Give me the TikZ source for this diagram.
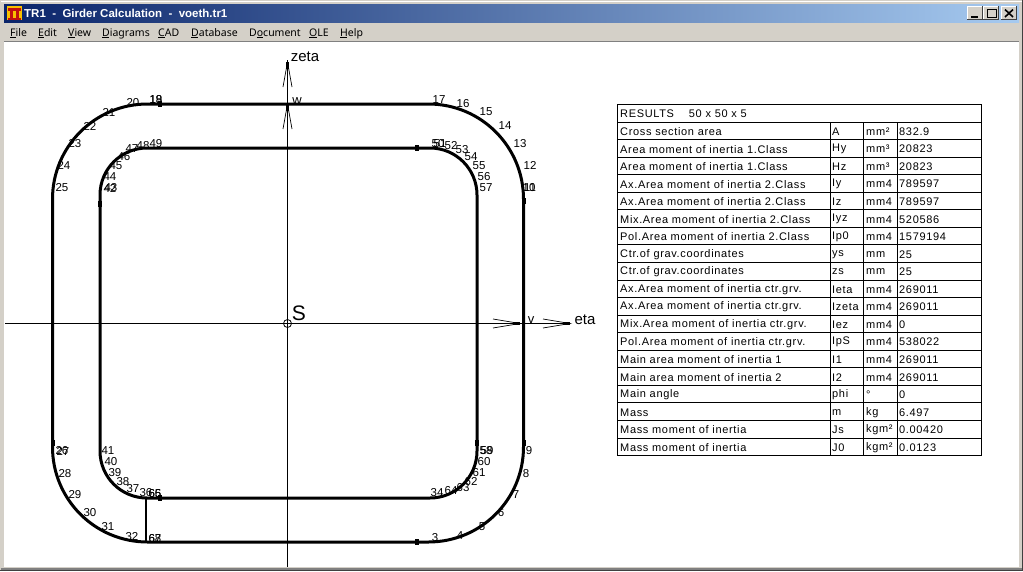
\documentclass[tikz,border=0pt]{standalone}
\usepackage{fontspec}
\setmainfont{Liberation Sans}
\newfontfamily\tblfont[LetterSpace=6]{Liberation Sans}
\newfontfamily\uifont{Noto Sans}
\definecolor{winbg}{HTML}{D4D0C8}
\definecolor{tbA}{HTML}{0A246A}
\definecolor{tbB}{HTML}{A6CAF0}
\definecolor{dkg}{HTML}{404040}
\definecolor{midg}{HTML}{808080}
\definecolor{iconY}{HTML}{F8C000}
\definecolor{iconR}{HTML}{C01010}
\tikzset{
 x=1pt,y=-1pt,
 profile/.style={line width=3pt,line join=round},
 axisline/.style={line width=0.9pt},
 barb/.style={line width=0.7pt},
 blob/.style={line width=3pt},
 tblline/.style={line width=0.9pt},
 tbltxt/.style={inner sep=0pt,anchor=west,font=\tblfont\fontsize{11}{13}\selectfont},
 ptlabel/.style={inner sep=0pt,font=\fontsize{11.5}{13}\selectfont},
 axislabel/.style={inner sep=0pt,font=\fontsize{15}{17}\selectfont},
 menutxt/.style={inner sep=0pt,anchor=base west,font=\uifont\fontsize{10.5}{12}\selectfont},
}
\newcommand{\ul}[2]{\rlap{\rule[-1.6pt]{#1pt}{0.8pt}}#2}
\begin{document}
\begin{tikzpicture}
\useasboundingbox (0,0) rectangle (1023,571);
% window frame
\fill[winbg] (0,0) rectangle (1023,571);
\fill[white] (1,1) rectangle (1022,1.8);
\fill[dkg] (0,569.5) rectangle (1023,571);
\fill[midg] (1,568) rectangle (1022,569.5);
\fill[dkg] (1021.6,0) rectangle (1023,571);
\shade[left color=tbA,right color=tbB] (4,4) rectangle (1019,22);
\fill[white] (4,42) rectangle (1019,567);
\fill[midg] (4,41) rectangle (1019,42);
% icon
\fill[iconY] (7,6) rectangle (22,20);
\fill[iconR] (8,8) rectangle (21,10.5);
\fill[iconR] (10,10) rectangle (12.5,18);
\fill[iconR] (16,10) rectangle (18.5,18);
\fill[iconR] (8,17.5) rectangle (21,19.5);
\node[inner sep=0pt,anchor=base west,text=white,font=\bfseries\fontsize{11.5}{14}\selectfont] (title) at (24,17.5) {TR1\ \ -\ \ Girder Calculation\ \ -\ \ voeth.tr1};
% window buttons
\foreach \xa/\nm in {967/min,983/max,1001/cls}{
  \fill[dkg] (\xa,6) rectangle ++(16,14);
  \fill[white] (\xa,6) rectangle ++(15,13);
  \fill[winbg] (\xa+1,7) rectangle ++(14,12);
}
\fill[black] (971,15.5) rectangle (978,17.5);
\draw[black,line width=1pt] (987,9.5) rectangle (996,17);
\draw[black,line width=1.2pt] (987,9.5) -- (996,9.5);
\draw[black,line width=1.6pt] (1005,9.5) -- (1013,17) (1013,9.5) -- (1005,17);
% menu
\node[menutxt] (mFile) at (10,36) {\ul{6}{F}ile};
\node[menutxt] (mEdit) at (38,36) {\ul{6}{E}dit};
\node[menutxt] (mView) at (68,36) {\ul{7}{V}iew};
\node[menutxt] (mDiag) at (102,36) {\ul{7}{D}iagrams};
\node[menutxt] (mCad) at (158,36) {CAD};
\node[menutxt] (mData) at (191,36) {\ul{7}{D}atabase};
\node[menutxt] (mDoc) at (249,36) {D\ul{6}{o}cument};
\node[menutxt] (mOle) at (309,36) {\ul{8}{O}LE};
\node[menutxt] (mHelp) at (340,36) {\ul{7}{H}elp};
\draw[black,line width=.7pt] (158,37.6) -- (165,37.6);
% profile
\draw[profile,rounded corners=95pt] (52.5,104) rectangle (523.5,542);
\draw[profile,rounded corners=47pt] (100,148) rectangle (477,498);
\draw[line width=2.6pt] (146,498) -- (146,542);
\foreach \px/\py in {160/104,417/148,417/542,160/498}{
  \fill (\px-2,\py-3) rectangle (\px+2,\py+3);}
\foreach \px/\py in {100/204,523.5/201,52.5/443,477/443,523.5/443}{
  \fill (\px-2,\py-3) rectangle (\px+2,\py+3);}
% axes
\coordinate (zTop) at (287.5,60);
\coordinate (zBot) at (287.5,567);
\coordinate (eL) at (5,323.5);
\coordinate (eR) at (570,323.5);
\draw[axisline] (zTop) -- (zBot);
\draw[axisline] (eL) -- (eR);
\foreach \ty in {62,104}{
  \draw[barb] (283,\ty+25) -- (287.5,\ty) -- (292,\ty+25);
  \draw[blob] (287.5,\ty) -- (287.5,\ty+7);}
\foreach \tx in {520,570}{
  \draw[barb] (\tx-27,319) -- (\tx,323.5) -- (\tx-27,328);
  \draw[blob] (\tx,323.5) -- (\tx-7,323.5);}
\node[draw,circle,line width=.8pt,minimum size=8pt,inner sep=0pt] (S0) at (287.5,323.5) {};
\node[inner sep=0pt,font=\fontsize{21}{23}\selectfont] (S) at (299,313) {S};
\node[axislabel] (zeta) at (305,57) {zeta};
\node[axislabel] (eta) at (585,320) {eta};
\node[inner sep=0pt,font=\fontsize{13}{15}\selectfont] (lv) at (531,320) {v};
\node[inner sep=0pt,font=\fontsize{13}{15}\selectfont] (lw) at (297,101) {w};
% point numbers
\foreach \t/\px/\py [count=\i] in {
 3/435/538,4/460/536,5/482/527,6/501/513,7/516/495,8/526/474,9/529/451,
 10/529/188,11/530/188,12/530/165,13/520/144,14/505/126,15/486/112,16/463/104,17/439/100,
 18/156/100,19/156/100,20/133/103,21/109/112,22/90/126,23/75/144,24/64/165,25/62/188,
 26/62/451,27/63/451,28/65/474,29/75/495,30/90/513,31/108/527,32/132/537,
 67/155/539,68/155/539,36/146/493,37/133/489,38/123/482,39/115/473,40/111/462,41/108/451,
 65/155/494,66/155/494,
 42/110/188,43/111/188,44/110/177,45/116/166,46/124/157,47/132/149,48/143/146,49/156/144,
 50/438/144,51/440/144,52/451/146,53/462/150,54/471/157,55/479/166,56/484/177,57/486/188,
 58/486/451,59/487/451,60/484/462,61/479/473,62/471/482,63/463/488,64/451/491,34/437/493}{
  \node[ptlabel] (pt\i) at (\px,\py) {\t};
}
% table
\draw[tblline] (617.5,104.5) rectangle (981.5,455.5);
\foreach \r in {1,...,19}{
  \draw[tblline] (617.5,104.5+17.55*\r) -- (981.5,104.5+17.55*\r);}
\foreach \cx in {830,863.5,897}{
  \draw[tblline] (\cx,122.05) -- (\cx,455.5);}
\node[tbltxt] (head) at (620,114) {RESULTS\ \ \ \ 50 x 50 x 5};
\foreach \a/\b/\c/\d [count=\r] in {
 Cross section area/A/mm²/832.9,
 Area moment of inertia 1.Class/Hy/mm³/20823,
 Area moment of inertia 1.Class/Hz/mm³/20823,
 Ax.Area moment of inertia 2.Class/Iy/mm4/789597,
 Ax.Area moment of inertia 2.Class/Iz/mm4/789597,
 Mix.Area moment of inertia 2.Class/Iyz/mm4/520586,
 Pol.Area moment of inertia 2.Class/Ip0/mm4/1579194,
 Ctr.of grav.coordinates/ys/mm/25,
 Ctr.of grav.coordinates/zs/mm/25,
 Ax.Area moment of inertia ctr.grv./Ieta/mm4/269011,
 Ax.Area moment of inertia ctr.grv./Izeta/mm4/269011,
 Mix.Area moment of inertia ctr.grv./Iez/mm4/0,
 Pol.Area moment of inertia ctr.grv./IpS/mm4/538022,
 Main area moment of inertia 1/I1/mm4/269011,
 Main area moment of inertia 2/I2/mm4/269011,
 Main angle/phi/°/0,
 Mass/m/kg/6.497,
 Mass moment of inertia/Js/kgm²/0.00420,
 Mass moment of inertia/J0/kgm²/0.0123}{
  \node[tbltxt] (a\r) at (620,114+17.55*\r) {\a};
  \node[tbltxt] (b\r) at (832,114+17.55*\r) {\b};
  \node[tbltxt] (c\r) at (866,114+17.55*\r) {\c};
  \node[tbltxt] (d\r) at (899,114+17.55*\r) {\d};
}
\end{tikzpicture}
\end{document}
